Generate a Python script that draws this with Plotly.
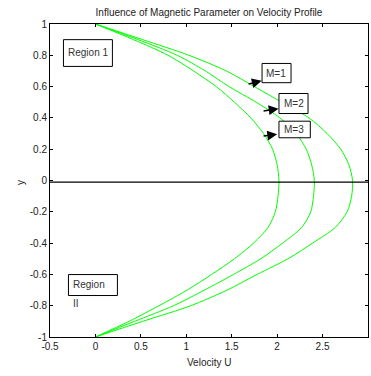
import plotly.graph_objects as go

# ---- data ----
y_vals = [1, 0.9, 0.8, 0.7, 0.6, 0.5, 0.4, 0.3, 0.2, 0.1, 0,
          -0.1, -0.2, -0.3, -0.4, -0.5, -0.6, -0.7, -0.8, -0.9, -1]
u_m1 = [0, 0.52, 1.03, 1.44, 1.75, 2.05, 2.35, 2.55, 2.70, 2.79, 2.83,
        2.82, 2.77, 2.64, 2.39, 2.12, 1.78, 1.45, 1.05, 0.52, 0]
u_m2 = [0, 0.47, 0.90, 1.21, 1.47, 1.77, 2.03, 2.21, 2.32, 2.38, 2.41,
        2.40, 2.37, 2.27, 2.06, 1.82, 1.52, 1.20, 0.86, 0.43, 0]
u_m3 = [0, 0.42, 0.80, 1.08, 1.33, 1.53, 1.71, 1.85, 1.95, 2.00, 2.02,
        2.01, 1.98, 1.90, 1.74, 1.53, 1.28, 1.01, 0.70, 0.37, 0]

x_ticks = [-0.5, 0, 0.5, 1, 1.5, 2, 2.5, 3]
x_tick_labels = ["-0.5", "0", "0.5", "1", "1.5", "2", "2.5", "3"]
y_ticks = [1, 0.8, 0.6, 0.4, 0.2, 0, -0.2, -0.4, -0.6, -0.8, -1]
y_tick_labels = ["1", "0.8", "0.6", "0.4", "0.2", "0", "-0.2", "-0.4", "-0.6", "-0.8", "-1"]

FONT = "Liberation Sans Narrow, Arial Narrow, Liberation Sans, Arial, sans-serif"
GREEN = "#00ff00"
W, H = 371, 376
ML, MR, MT, MB = 50, 3, 24, 39
PW, PH = W - ML - MR, H - MT - MB

fig = go.Figure()
for u, name in [(u_m1, "M=1"), (u_m2, "M=2"), (u_m3, "M=3")]:
    fig.add_trace(go.Scatter(x=u, y=y_vals, mode="lines", name=name,
                             line=dict(color=GREEN, width=1, shape="spline", smoothing=0.8),
                             showlegend=False, hoverinfo="skip"))

# horizontal line at y=0
fig.add_trace(go.Scatter(x=[-0.5, 3], y=[-0.01, -0.01], mode="lines",
                         line=dict(color="black", width=1.2), showlegend=False,
                         hoverinfo="skip"))

shapes = []
annotations = []

def box(x0, x1, y0, y1):
    shapes.append(dict(type="rect", xref="x", yref="y", x0=x0, x1=x1, y0=y0, y1=y1,
                       line=dict(color="black", width=1), fillcolor="white", layer="above"))

def label(x, y, text):
    annotations.append(dict(x=x, y=y, xref="x", yref="y", text=text, showarrow=False,
                            font=dict(family=FONT, size=10, color="#333")))

def arrow(tx, ty, hx, hy):
    annotations.append(dict(x=hx, y=hy, ax=tx, ay=ty, xref="x", yref="y",
                            axref="x", ayref="y", text="", showarrow=True,
                            arrowhead=2, arrowsize=1.4, arrowwidth=1.4,
                            arrowcolor="black"))

box(-0.352, 0.187, 0.729, 0.90)
label(-0.085, 0.815, "Region 1")
box(-0.297, 0.242, -0.735, -0.601)
label(-0.07, -0.665, "Region")
label(-0.21, -0.785, "II")

box(1.834, 2.153, 0.625, 0.748)
label(1.99, 0.686, "M=1")
arrow(1.669, 0.614, 1.83, 0.637)
box(2.02, 2.34, 0.428, 0.556)
label(2.18, 0.492, "M=2")
arrow(1.834, 0.443, 2.015, 0.459)
box(2.02, 2.365, 0.273, 0.379)
label(2.19, 0.326, "M=3")
arrow(1.834, 0.283, 2.0, 0.295)

def px_to_paper(px, py):
    return (px - ML) / PW, (H - MB - py) / PH

# axis titles
xt = px_to_paper(209, 362)
annotations.append(dict(x=xt[0], y=xt[1], xref="paper", yref="paper",
                        xanchor="center", yanchor="middle", showarrow=False,
                        text="Velocity U", font=dict(family=FONT, size=10, color="#222")))
yt = px_to_paper(20, 182)
annotations.append(dict(x=yt[0], y=yt[1], xref="paper", yref="paper",
                        xanchor="center", yanchor="middle", showarrow=False, textangle=-90,
                        text="y", font=dict(family=FONT, size=10, color="#222")))

fig.update_layout(
    width=W, height=H,
    margin=dict(l=ML, r=MR, t=MT, b=MB, autoexpand=False),
    paper_bgcolor="white", plot_bgcolor="white",
    title=dict(text="Influence of Magnetic Parameter on Velocity Profile",
               x=0.5, xanchor="center", xref="paper", y=1 - 12 / H, yanchor="middle",
               font=dict(family=FONT, size=10, color="#222")),
    font=dict(family=FONT, size=10, color="#222"),
    shapes=shapes, annotations=annotations,
)
fig.update_xaxes(range=[-0.5, 3], tickvals=x_ticks, ticktext=x_tick_labels,
                 showgrid=False, zeroline=False, showline=True, mirror="ticks",
                 linecolor="black", linewidth=1, ticks="inside", ticklen=3,
                 tickcolor="black", automargin=False)
fig.update_yaxes(range=[-1, 1], tickvals=y_ticks, ticktext=y_tick_labels,
                 showgrid=False, zeroline=False, showline=True, mirror="ticks",
                 linecolor="black", linewidth=1, ticks="inside", ticklen=3,
                 tickcolor="black", automargin=False)

fig.write_html("out.html", config={"displayModeBar": False},
               post_script="document.body.style.margin='0';")
